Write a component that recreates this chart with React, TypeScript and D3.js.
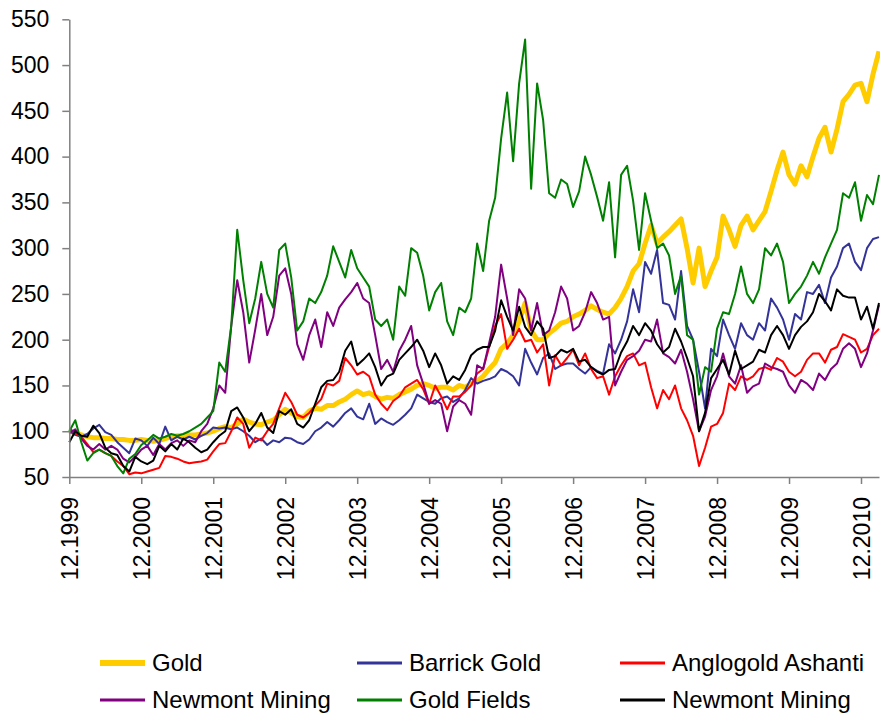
import * as d3 from 'd3';
import React, { useEffect, useRef } from 'react';

// monthly index values, 12.1999 = 100 (month 0 = Dec 1999, month 135 = Mar 2011)
const xTickLabels = ['12.1999', '12.2000', '12.2001', '12.2002', '12.2003', '12.2004',
    '12.2005', '12.2006', '12.2007', '12.2008', '12.2009', '12.2010'];
const yTicks = [50, 100, 150, 200, 250, 300, 350, 400, 450, 500, 550];

const gold = [
    100, 98, 96, 94, 93, 93, 92, 92, 91, 91, 90, 90, 91,
    90, 89, 90, 92, 94, 95, 95, 96, 96, 97, 98, 100,
    103, 105, 104, 108, 113, 110, 108, 107, 110, 112, 118, 124,
    120, 116, 115, 122, 125, 124, 128, 128, 132, 135, 140, 144,
    140, 142, 138, 135, 137, 136, 140, 143, 146, 150, 152, 150,
    147, 148, 148, 145, 150, 148, 152, 155, 160, 168, 175, 190,
    196, 205, 220, 240, 210, 200, 200, 207, 212, 218, 220, 225,
    228, 232, 237, 233, 230, 228, 235, 245, 258, 275, 283, 305,
    325, 305, 312, 318, 325, 332, 300, 262, 300, 258, 275, 290,
    335, 320, 302, 325, 335, 320, 330, 340, 362, 385, 405, 380,
    370, 390, 378, 400, 420, 432, 405, 430, 460, 468, 478, 480,
    460, 490, 515,
];

const barrick = [
    100, 96, 94, 97, 103, 107, 99, 96, 88, 82, 76, 92, 90,
    84, 93, 86, 105, 90, 94, 91, 94, 91, 95, 98, 104,
    103, 104, 102, 104, 100, 95, 88, 92, 85, 90, 88, 93,
    92, 88, 86, 91, 100, 104, 110, 105, 112, 120, 125, 116,
    113, 130, 108, 114, 110, 107, 112, 118, 125, 140, 136, 132,
    130, 136, 138, 132, 136, 145, 158, 152, 155, 157, 160, 168,
    165, 160, 150, 190, 175, 162, 180, 185, 168, 172, 174, 174,
    168, 163, 170, 166, 163, 195, 185, 200, 220, 255, 230, 285,
    272, 298, 240, 238, 222, 275, 215, 200, 165, 125, 190, 182,
    222, 205, 190, 218, 205, 200, 218, 210, 245, 235, 222, 200,
    228, 222, 252, 250, 260, 240, 268, 280, 300, 305, 285, 276,
    300, 310, 312,
];

const anglogold = [
    103, 98, 94, 86, 77, 80, 76, 73, 67, 62, 53, 55, 54,
    56, 58, 60, 73, 72, 70, 67, 65, 66, 67, 69, 78,
    86, 87, 100, 115, 108, 82, 93, 90, 100, 108, 125, 142,
    132, 118, 115, 120, 128, 135, 152, 150, 155, 180, 172, 162,
    165, 160, 140, 130, 123, 133, 138, 148, 152, 156, 146, 130,
    150, 138, 124, 138, 138, 143, 150, 163, 168, 192, 215, 228,
    190, 200, 212, 198, 200, 186, 195, 150, 183, 172, 180, 189,
    172, 185, 168, 158, 160, 140, 160, 172, 182, 185, 172, 175,
    148, 125, 145, 135, 150, 125, 112, 95, 62, 82, 105, 108,
    120, 152, 145, 160, 156, 160, 168, 170, 167, 180, 176, 165,
    160, 165, 178, 185, 185, 175, 189, 192, 206, 203, 200, 186,
    190, 205, 212,
];

const newmont = [
    98, 102, 92, 84, 80, 86, 80, 84, 80, 70, 66, 72, 80,
    84, 74, 86, 80, 87, 90, 84, 90, 88, 100, 108, 125,
    150, 142, 215, 265, 230, 175, 211, 250, 205, 225, 270, 278,
    250, 195, 178, 205, 222, 192, 230, 215, 235, 244, 252, 262,
    245, 240, 205, 168, 178, 165, 188, 200, 215, 172, 152, 130,
    134, 130, 100, 127, 134, 130, 118, 172, 168, 196, 225, 282,
    245, 205, 255, 245, 210, 240, 205, 210, 230, 258, 245, 210,
    215, 230, 252, 240, 222, 225, 150, 165, 178, 182, 188, 200,
    198, 222, 185, 181, 174, 189, 165, 135, 100, 116, 145, 160,
    185, 160, 152, 172, 142, 149, 152, 174, 170, 168, 165, 150,
    142, 156, 152, 145, 163, 156, 168, 174, 190, 196, 190, 170,
    185, 210, 238,
];

const goldFields = [
    100, 112, 88, 68, 76, 80, 76, 73, 62, 54, 70, 75, 85,
    90, 96, 92, 94, 97, 95, 97, 100, 104, 108, 115, 122,
    175, 165, 215, 320, 265, 218, 245, 285, 250, 235, 298, 305,
    268, 210, 220, 245, 240, 252, 270, 302, 285, 268, 298, 278,
    268, 258, 222, 215, 222, 200, 258, 248, 300, 295, 270, 232,
    252, 262, 220, 205, 235, 230, 245, 305, 275, 330, 355, 420,
    470, 395, 480, 528, 365, 480, 440, 360, 355, 375, 370, 345,
    362, 400, 380, 356, 330, 372, 290, 380, 390, 352, 298, 360,
    330, 300, 305, 292, 250, 270, 205, 200, 140, 170, 165, 212,
    230, 228, 250, 280, 250, 240, 255, 300, 292, 305, 285, 240,
    250, 258, 270, 285, 272, 290, 305, 320, 360, 355, 372, 330,
    358, 348, 380,
];

const newmontBlack = [
    88, 100, 95, 94, 106, 98, 82, 76, 74, 62, 56, 72, 67,
    64, 68, 84, 78, 86, 80, 92, 88, 82, 77, 80, 88,
    95, 100, 122, 126, 115, 100, 108, 120, 104, 98, 122, 118,
    124, 108, 104, 112, 130, 148, 155, 156, 165, 188, 198, 172,
    178, 185, 170, 150, 160, 163, 178, 185, 192, 200, 188, 170,
    185, 172, 152, 160, 156, 167, 183, 189, 192, 192, 210, 243,
    225, 210, 236, 214, 205, 220, 212, 180, 182, 189, 186, 190,
    176, 178, 170, 165, 162, 167, 168, 186, 198, 215, 205, 218,
    210, 195, 186, 192, 212, 198, 180, 160, 100, 120, 158, 168,
    178, 162, 188, 168, 172, 176, 189, 186, 205, 215, 205, 190,
    205, 214, 220, 230, 250, 242, 232, 255, 248, 246, 246, 222,
    236, 212, 240,
];

const seriesNames = ['Gold', 'Barrick Gold', 'Anglogold Ashanti', 'Newmont Mining', 'Gold Fields', 'Newmont Mining'];
const seriesValues = [gold, barrick, anglogold, newmont, goldFields, newmontBlack];
const seriesColors = ['#ffcc00', '#333399', '#ff0000', '#800080', '#008000', '#000000'];
const seriesWidths = [5, 2, 2, 2, 2, 2];

const FONT = '"Liberation Sans", Arial, sans-serif';

export default function App() {
    const ref = useRef<SVGGElement>(null);

    useEffect(() => {
        const g = d3.select(ref.current);
        g.selectAll('*').remove();

        const x = d3.scaleLinear().domain([0, 135]).range([69.3, 879]);
        const y = d3.scaleLinear().domain([50, 550]).range([477, 19.3]);

        // lines
        const line = d3.line<number>()
            .x((_, i) => x(i))
            .y(d => y(d));

        seriesValues.forEach((vals, k) => {
            g.append('path')
                .datum(vals)
                .attr('d', line)
                .attr('fill', 'none')
                .attr('stroke', seriesColors[k])
                .attr('stroke-width', seriesWidths[k])
                .attr('stroke-linejoin', 'round');
        });

        // y axis
        const yAxis = g.append('g')
            .attr('transform', `translate(${x(0)},0)`)
            .call(d3.axisLeft(y).tickValues(yTicks).tickSize(7).tickSizeOuter(0).tickPadding(13));
        yAxis.select('.domain').attr('stroke', '#808080').attr('stroke-width', 1.5);
        yAxis.selectAll('.tick line').attr('stroke', '#808080').attr('stroke-width', 1.5);
        yAxis.selectAll('.tick text')
            .attr('fill', '#000')
            .style('font-family', FONT)
            .style('font-size', '23px');

        // x axis
        const xAxis = g.append('g')
            .attr('transform', `translate(0,${y(50)})`)
            .call(d3.axisBottom(x)
                .tickValues(xTickLabels.map((_, i) => i * 12))
                .tickFormat((_, i) => xTickLabels[i])
                .tickSize(7)
                .tickSizeOuter(0));
        xAxis.select('.domain').attr('stroke', '#808080').attr('stroke-width', 1.5);
        xAxis.selectAll('.tick line').attr('stroke', '#808080').attr('stroke-width', 1.5);
        xAxis.selectAll('.tick text')
            .attr('fill', '#000')
            .attr('transform', 'rotate(-90)')
            .attr('text-anchor', 'end')
            .attr('x', -20)
            .attr('y', 0)
            .attr('dy', '0.35em')
            .style('font-family', FONT)
            .style('font-size', '23px');

        // legend
        const colX = [100, 357, 620];
        const rowY = [663, 700];
        const legend = g.append('g');
        seriesNames.forEach((name, k) => {
            const lx = colX[k % 3];
            const ly = rowY[Math.floor(k / 3)];
            legend.append('line')
                .attr('x1', lx).attr('x2', lx + 45)
                .attr('y1', ly).attr('y2', ly)
                .attr('stroke', seriesColors[k])
                .attr('stroke-width', seriesWidths[k] + 1);
            legend.append('text')
                .attr('x', lx + 52)
                .attr('y', ly)
                .attr('dy', '0.35em')
                .style('font-family', FONT)
                .style('font-size', '24px')
                .attr('fill', '#000')
                .text(name);
        });
    }, []);

    return (
        <svg width={880} height={713} style={{ position: 'absolute', left: 0, top: 0, background: '#fff' }}>
            <g ref={ref} />
        </svg>
    );
}
